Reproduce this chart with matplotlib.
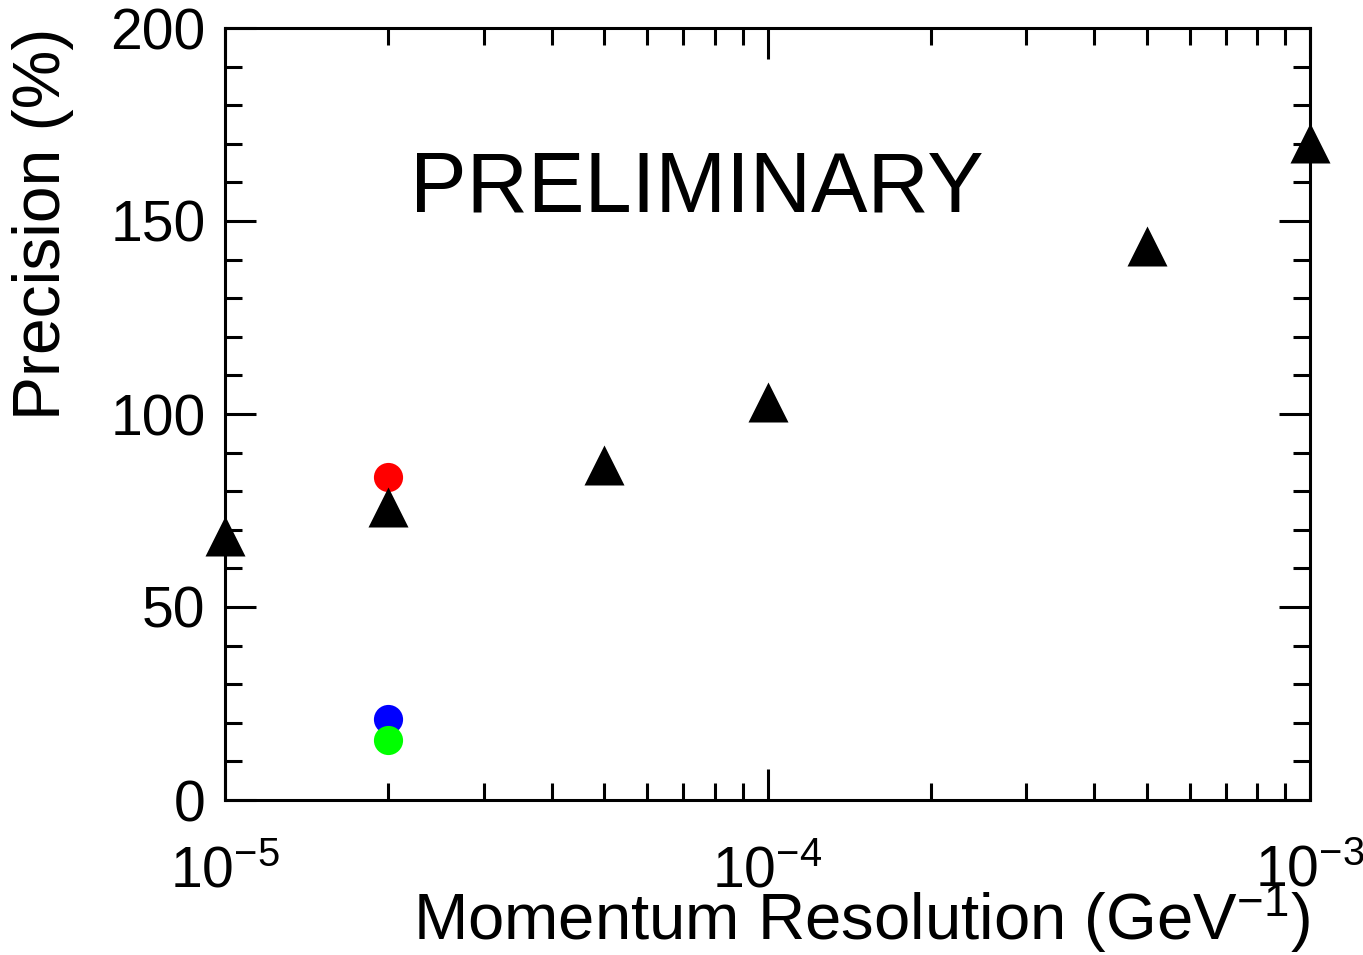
import matplotlib
matplotlib.use("Agg")
import matplotlib.pyplot as plt
from matplotlib.ticker import LogLocator, MultipleLocator

plt.rcParams['font.family'] = ['Liberation Sans', 'DejaVu Sans']
plt.rcParams['mathtext.fontset'] = 'custom'
plt.rcParams['mathtext.rm'] = 'Liberation Sans'
plt.rcParams['mathtext.it'] = 'Liberation Sans'
plt.rcParams['mathtext.default'] = 'regular'

# Data
tri_x = [1e-5, 2e-5, 5e-5, 1e-4, 5e-4, 1e-3]
tri_y = [68.3, 75.9, 86.8, 103.0, 143.5, 170.3]
red_x, red_y = [2e-5], [83.6]
blue_x, blue_y = [2e-5], [21.0]
green_x, green_y = [2e-5], [15.5]

W, H = 1363, 955
fig = plt.figure(figsize=(W/100, H/100), dpi=100)
ax = fig.add_axes([225/W, (H-800)/H, (1310-225)/W, (800-28)/H])

ax.plot(red_x, red_y, 'o', color='#ff0000', ms=21, mec='none', clip_on=False, zorder=3)
ax.plot(blue_x, blue_y, 'o', color='#0000ff', ms=21, mec='none', clip_on=False, zorder=3)
ax.plot(green_x, green_y, 'o', color='#00ff00', ms=21, mec='none', clip_on=False, zorder=3)
ax.plot(tri_x, tri_y, '^', color='black', ms=29, mec='none', clip_on=False, zorder=4)

ax.set_xscale('log')
ax.set_xlim(1e-5, 1e-3)
ax.set_ylim(0, 200)
ax.xaxis.set_major_locator(LogLocator(base=10, numticks=10))
ax.xaxis.set_minor_locator(LogLocator(base=10, subs=range(2, 10), numticks=20))
ax.yaxis.set_major_locator(MultipleLocator(50))
ax.yaxis.set_minor_locator(MultipleLocator(10))

for s in ax.spines.values():
    s.set_linewidth(2.2)
ax.tick_params(which='both', direction='in', top=True, right=True, width=2.2, labelsize=41)
ax.tick_params(which='major', length=22)
ax.tick_params(which='minor', length=12)
ax.tick_params(axis='x', which='major', pad=32)
ax.tick_params(axis='y', which='major', pad=14)

fig.text(1310/W, (H-940)/H, 'Momentum Resolution (GeV$^{-1}$)', fontsize=47,
         ha='right', va='baseline')
fig.text(12/W, (H-28)/H, 'Precision (%)', fontsize=47.5, rotation=90,
         ha='left', va='top')
fig.text(410/W, (H-211)/H, 'PRELIMINARY', fontsize=61, ha='left', va='baseline')

fig.savefig('out.png', dpi=100)
